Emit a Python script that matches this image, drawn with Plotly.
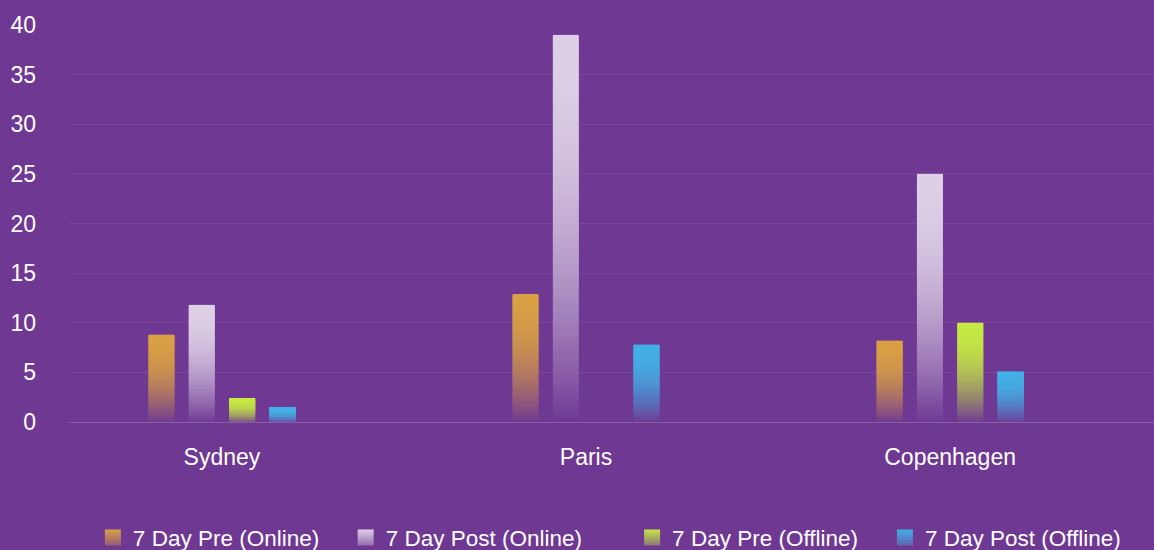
import plotly.graph_objects as go

cities = ["Sydney", "Paris", "Copenhagen"]
series_names = ["7 Day Pre (Online)", "7 Day Post (Online)", "7 Day Pre (Offline)", "7 Day Post (Offline)"]
pre_online = [8.8, 12.9, 8.2]
post_online = [11.8, 39, 25]
pre_offline = [2.4, 0, 10]
post_offline = [1.5, 7.8, 5.1]
series_values = [pre_online, post_online, pre_offline, post_offline]
y_ticks = [0, 5, 10, 15, 20, 25, 30, 35, 40]

BG_RGB = (111, 56, 147)
BG = "rgb(111,56,147)"
series_rgb = [(217, 160, 68), (221, 208, 230), (197, 232, 67), (66, 176, 230)]
FONT = "Liberation Sans, Arial, Helvetica, sans-serif"
N_SEG = 80
SEAM_OVERLAP = 0.12  # slight vertical overlap of slices (value units) to hide seams


def blend(rgb, a):
    r, g, b = (round(a * c + (1 - a) * bg) for c, bg in zip(rgb, BG_RGB))
    return "rgb(%d,%d,%d)" % (r, g, b)


fig = go.Figure()

# Gradient bars: each bar is a stack of slices (bottom to top) whose colour
# fades toward the background near the baseline.
for si, (name, vals, rgb) in enumerate(zip(series_names, series_values, series_rgb)):
    for k in range(N_SEG):
        t = (k + 0.5) / N_SEG
        alpha = 1 - (1 - t) ** 2
        bases = [max(0.0, v * k / N_SEG - (SEAM_OVERLAP if k > 0 and v > 0 else 0)) for v in vals]
        tops = [v * (k + 1) / N_SEG for v in vals]
        fig.add_trace(go.Bar(
            x=cities,
            y=[tp - b for tp, b in zip(tops, bases)],
            base=bases,
            offsetgroup=str(si),
            marker=dict(color=blend(rgb, alpha), line=dict(width=0)),
            showlegend=False,
            hoverinfo="skip",
        ))

# Legend entries
legend_x = [0.022, 0.255, 0.519, 0.752]
for si, (name, rgb) in enumerate(zip(series_names, series_rgb)):
    lg = "legend" if si == 0 else f"legend{si + 1}"
    fig.add_trace(go.Scatter(
        x=[None], y=[None], mode="markers", name=name,
        marker=dict(symbol="square", size=20, color="rgb(%d,%d,%d)" % rgb,
                    gradient=dict(type="vertical", color=blend(rgb, 0.35)),
                    line=dict(width=0)),
        legend=lg,
    ))

legend_common = dict(
    orientation="h", yanchor="middle", y=-0.292, xanchor="left",
    bgcolor="rgba(0,0,0,0)", borderwidth=0,
    font=dict(family=FONT, size=22.5, color="#ffffff"),
)
layout_legends = {}
for si in range(4):
    key = "legend" if si == 0 else f"legend{si + 1}"
    layout_legends[key] = dict(legend_common, x=legend_x[si])

fig.update_layout(
    width=1154, height=550,
    margin=dict(l=69, r=0, t=25, b=128, autoexpand=False),
    paper_bgcolor=BG, plot_bgcolor=BG,
    barmode="group", bargap=0.557, bargroupgap=0.355,
    font=dict(family=FONT, size=23, color="#ffffff"),
    xaxis=dict(
        range=[-0.42, 2.56], showgrid=False, zeroline=False,
        showline=False, ticks="", ticklabelstandoff=19,
        tickfont=dict(size=23, color="#ffffff"),
    ),
    yaxis=dict(
        range=[0, 40], tickvals=y_ticks, showgrid=True,
        gridcolor="rgba(255,255,255,0.07)", gridwidth=1,
        zeroline=True, zerolinecolor="rgba(255,255,255,0.18)", zerolinewidth=1,
        showline=False, ticks="", ticklabelstandoff=32,
        tickfont=dict(size=23, color="#ffffff"),
    ),
    showlegend=True,
    **layout_legends,
)

fig.write_html("out.html", config={"displayModeBar": False},
               post_script="document.body.style.margin='0';")
